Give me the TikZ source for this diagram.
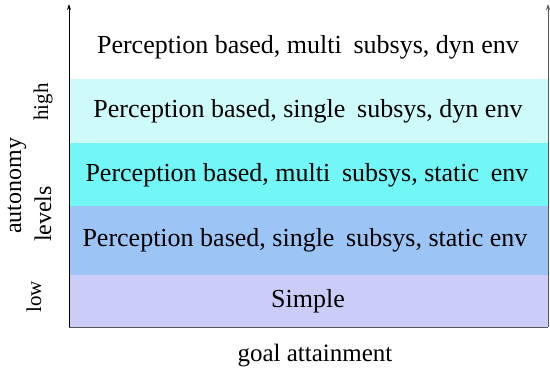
\documentclass[tikz,border=0pt]{standalone}
\usepackage{fontspec}
\setmainfont{Liberation Serif}
\usetikzlibrary{arrows.meta}
\definecolor{bandA}{HTML}{CCCCF8}
\definecolor{bandB}{HTML}{9CC4F4}
\definecolor{bandC}{HTML}{72F6F6}
\definecolor{bandD}{HTML}{CEFAFA}
\tikzset{
  rowtext/.style={font=\rmfamily\fontsize{26}{30}\selectfont, inner sep=0pt},
  axislabel/.style={font=\rmfamily\fontsize{24}{28}\selectfont, rotate=90, inner sep=0pt},
  smalllabel/.style={font=\rmfamily\fontsize{21}{24}\selectfont, rotate=90, inner sep=0pt},
  axis/.style={line width=0.9pt, -{Stealth[length=6pt,width=4pt]}},
}
\newcommand{\gapsp}{\hspace{0.45em}}
\begin{document}
\begin{tikzpicture}[x=1pt,y=-1pt]
\useasboundingbox (0,0) rectangle (550,381);
% colour bands, lowest level at the bottom
\fill[bandD] (69,79) rectangle (548,143);
\fill[bandC] (69,143) rectangle (548,206);
\fill[bandB] (69,206) rectangle (548,275);
\fill[bandA] (69,275) rectangle (548,327);
% level texts
\node[rowtext] (l5) at (308,47) {Perception based, multi\gapsp subsys, dyn env};
\node[rowtext] (l4) at (308,111) {Perception based, single\gapsp subsys, dyn env};
\node[rowtext] (l3) at (307,175) {Perception based, multi\gapsp subsys, static\gapsp env};
\node[rowtext] (l2) at (305,240) {Perception based, single\gapsp subsys, static env};
\node[rowtext] (l1) at (308,301) {Simple};
% axes
\coordinate (o) at (69,327);
\coordinate (ytop) at (69,4);
\coordinate (br) at (548,327);
\coordinate (rtop) at (548,4);
\draw[gray!70!black, line width=0.9pt] (o) -- (br);
\draw[axis] (o) -- (ytop);
\draw[axis, gray!70!black] (br) -- (rtop);
% axis labels
\node[axislabel] (auto) at (17,186) {autonomy};
\node[axislabel] (lev) at (43,214) {levels};
\node[smalllabel] (hi) at (43,102) {high};
\node[smalllabel] (lo) at (34,297) {low};
\node[font=\rmfamily\fontsize{25}{28}\selectfont, inner sep=0pt] (goal) at (315,356) {goal attainment};
\end{tikzpicture}
\end{document}
